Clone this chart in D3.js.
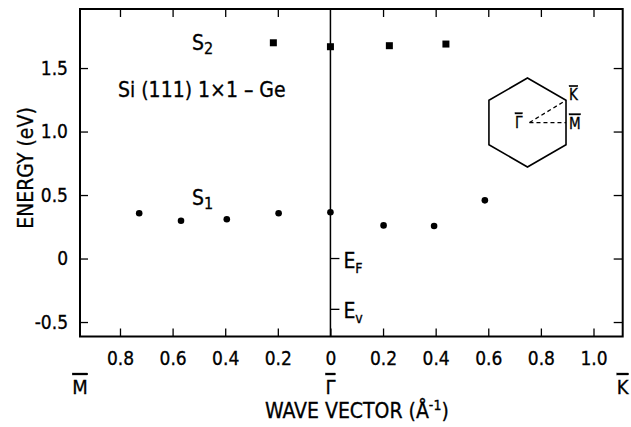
<!DOCTYPE html>
<html>
<head>
<meta charset="utf-8">
<script src="https://cdn.jsdelivr.net/npm/d3@7"></script>
<style>
body { margin: 0; background: #fff; }
text { font-family: "DejaVu Sans Condensed", "DejaVu Sans", sans-serif; fill: #000; stroke: #000; stroke-width: 0.3; }
.bar { text-decoration: overline; }
</style>
</head>
<body>
<div id="chart"></div>
<script>
// wave vector is signed: negative = Gamma -> M-bar, positive = Gamma -> K-bar
var s1K = [-0.727, -0.568, -0.394, -0.197, 0.0, 0.202, 0.394, 0.587];
var s1E = [0.356, 0.298, 0.309, 0.356, 0.364, 0.261, 0.256, 0.458];
var s2K = [-0.217, 0.0, 0.224, 0.439];
var s2E = [1.699, 1.668, 1.676, 1.689];

var xTicks = [-0.8, -0.6, -0.4, -0.2, 0, 0.2, 0.4, 0.6, 0.8, 1.0];
var xTickLabels = ["0.8", "0.6", "0.4", "0.2", "0", "0.2", "0.4", "0.6", "0.8", "1.0"];
var yTicks = [-0.5, 0, 0.5, 1.0, 1.5];
var yTickLabels = ["-0.5", "0", "0.5", "1.0", "1.5"];
var levelNames = ["F", "v"];
var levelE = [0, -0.4];

var W = 631, H = 427;
var svg = d3.select("#chart")
	.append("svg")
	.attr("width", W)
	.attr("height", H);

var x = d3.scaleLinear().domain([-0.952, 1.111]).range([80, 622.7]);
var y = d3.scaleLinear().domain([-0.614, 1.965]).range([336.5, 9]);

var xFmt = function(d) { return xTickLabels[xTicks.indexOf(d)]; };
var yFmt = function(d) { return yTickLabels[yTicks.indexOf(d)]; };

function styleAxis(g) {
	g.select(".domain").remove();
	g.selectAll(".tick line").attr("stroke", "#000").attr("stroke-width", 1.3);
	g.selectAll(".tick text").style("font-size", "19px").attr("fill", "#000");
}

svg.append("g")
	.attr("transform", "translate(0," + y.range()[0] + ")")
	.call(d3.axisBottom(x).tickValues(xTicks).tickFormat(xFmt).tickSizeInner(-8).tickSizeOuter(0).tickPadding(15))
	.call(styleAxis);
svg.append("g")
	.attr("transform", "translate(0," + y.range()[1] + ")")
	.call(d3.axisTop(x).tickValues(xTicks.filter(function(d) { return d != 0; })).tickFormat("").tickSizeInner(-8).tickSizeOuter(0))
	.call(styleAxis);
svg.append("g")
	.attr("transform", "translate(" + x.range()[0] + ",0)")
	.call(d3.axisLeft(y).tickValues(yTicks).tickFormat(yFmt).tickSizeInner(-8).tickSizeOuter(0).tickPadding(12))
	.call(styleAxis);
svg.append("g")
	.attr("transform", "translate(" + x.range()[1] + ",0)")
	.call(d3.axisRight(y).tickValues(yTicks).tickFormat("").tickSizeInner(-9).tickSizeOuter(0))
	.call(styleAxis);

// frame
svg.append("rect")
	.attr("x", x.range()[0]).attr("y", y.range()[1])
	.attr("width", x.range()[1] - x.range()[0])
	.attr("height", y.range()[0] - y.range()[1])
	.attr("fill", "none").attr("stroke", "#000").attr("stroke-width", 2);

// Gamma line
svg.append("line")
	.attr("x1", x(0)).attr("x2", x(0))
	.attr("y1", y.range()[1]).attr("y2", y.range()[0])
	.attr("stroke", "#000").attr("stroke-width", 1.5);

// E_F, E_v marks
levelE.forEach(function(e, i) {
	svg.append("line")
		.attr("x1", x(0)).attr("x2", x(0) + 9)
		.attr("y1", y(e)).attr("y2", y(e))
		.attr("stroke", "#000").attr("stroke-width", 1.3);
	var t = svg.append("text")
		.attr("x", x(0) + 13).attr("y", y(e) + 9)
		.style("font-size", "21px")
		.text("E");
	t.append("tspan").attr("dy", 5).style("font-size", "14px").text(levelNames[i]);
});

// S1 circles
svg.append("g").selectAll("circle")
	.data(s1K)
	.join("circle")
	.attr("cx", function(d) { return x(d); })
	.attr("cy", function(d, i) { return y(s1E[i]); })
	.attr("r", 3.3)
	.attr("fill", "#000");

// S2 squares
svg.append("g").selectAll("rect")
	.data(s2K)
	.join("rect")
	.attr("x", function(d) { return x(d) - 3.5; })
	.attr("y", function(d, i) { return y(s2E[i]) - 3.5; })
	.attr("width", 7).attr("height", 7)
	.attr("fill", "#000");

// band labels
var s2 = svg.append("text").attr("x", 192).attr("y", 50).style("font-size", "21px").text("S");
s2.append("tspan").attr("dy", 4).style("font-size", "16px").text("2");
var s1 = svg.append("text").attr("x", 192).attr("y", 205).style("font-size", "21px").text("S");
s1.append("tspan").attr("dy", 4).style("font-size", "16px").text("1");

svg.append("text").attr("x", 118).attr("y", 97).style("font-size", "21px").text("Si (111) 1\u00d71 \u2013 Ge");

// inset: surface Brillouin zone
var cx = x(0.749), cy = y(1.071), R = 44.5;
var hex = d3.range(6).map(function(i) {
	var a = (-90 + 60 * i) * Math.PI / 180;
	return [cx + R * Math.cos(a), cy + R * Math.sin(a)];
});
svg.append("path")
	.attr("d", d3.line()(hex) + "Z")
	.attr("fill", "none").attr("stroke", "#000").attr("stroke-width", 1.6);
svg.append("line")
	.attr("x1", cx + 2).attr("y1", cy).attr("x2", hex[1][0]).attr("y2", hex[1][1])
	.attr("stroke", "#000").attr("stroke-width", 1.3).attr("stroke-dasharray", "4,3");
svg.append("line")
	.attr("x1", cx + 2).attr("y1", cy).attr("x2", hex[1][0]).attr("y2", cy)
	.attr("stroke", "#000").attr("stroke-width", 1.3).attr("stroke-dasharray", "4,3");
svg.append("text").attr("class", "bar").attr("x", cx - 5).attr("y", cy + 5).attr("text-anchor", "end").style("font-size", "15px").text("\u0393");
svg.append("text").attr("class", "bar").attr("x", hex[1][0] + 3).attr("y", hex[1][1]).style("font-size", "15px").text("K");
svg.append("text").attr("class", "bar").attr("x", hex[1][0] + 3).attr("y", cy + 6).style("font-size", "15px").text("M");

// symmetry points under the axis
var symX = [x.domain()[0], 0, x.domain()[1]];
var symLab = ["M", "\u0393", "K"];
svg.append("g").selectAll("text")
	.data(symX)
	.join("text")
	.attr("class", "bar")
	.attr("x", function(d) { return x(d); })
	.attr("y", 394)
	.attr("text-anchor", "middle")
	.style("font-size", "20px")
	.text(function(d, i) { return symLab[i]; });

// axis titles
var xt = svg.append("text")
	.attr("x", 265).attr("y", 418)
	.style("font-size", "21px")
	.text("WAVE VECTOR (\u00c5");
xt.append("tspan").attr("dy", -8).style("font-size", "14px").text("-1");
xt.append("tspan").attr("dy", 8).text(")");

svg.append("text")
	.attr("transform", "translate(33,168) rotate(-90)")
	.attr("text-anchor", "middle")
	.style("font-size", "21px")
	.text("ENERGY (eV)");
</script>
</body>
</html>
